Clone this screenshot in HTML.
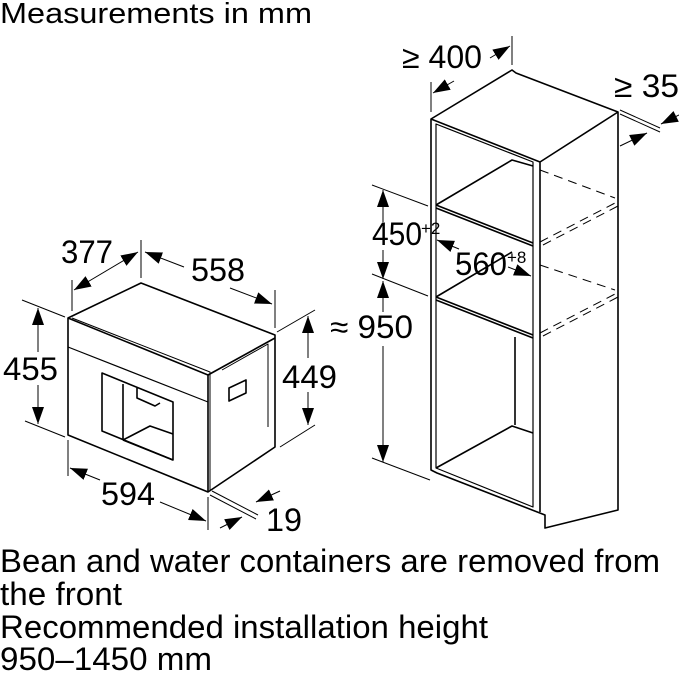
<!DOCTYPE html>
<html><head><meta charset="utf-8"><style>
html,body{margin:0;padding:0;background:#fff;width:679px;height:673px;overflow:hidden}
svg{display:block}
text{font-family:"Liberation Sans",Arial,sans-serif;fill:#000}
</style></head><body>
<svg width="679" height="673" viewBox="0 0 679 673" xmlns="http://www.w3.org/2000/svg">
<defs>
<marker id="a" markerWidth="17" markerHeight="14" refX="17" refY="7" orient="auto-start-reverse" markerUnits="userSpaceOnUse"><path d="M0,1 L17,7 L0,13 z" fill="#000"/></marker>
</defs>
<text x="0" y="23" font-size="29" textLength="312" lengthAdjust="spacingAndGlyphs">Measurements in mm</text>

<!-- Appliance -->
<g fill="none" stroke="#000" stroke-width="1.6" stroke-linejoin="round">
<path d="M68,318 L141,283 L275,335 L275,447 L208,492 L68,435 Z"/>
<path d="M68,318 L208,375 L208,492"/>
<path d="M208,375 L275,338"/>
<path d="M68,347 L208,402" stroke-width="1.2"/>
<path d="M72,318 L210,372 L210,490" stroke-width="1"/>
<path d="M222,370 L268,344 L268,427" stroke-width="1"/>
<path d="M102,373 L173,402 L173,460 L102,431 Z"/>
<path d="M123,384 L123,440 M123,440 L173,460 M123,440 L150,426 L173,434"/>
<path d="M137,388 L137,398 L155,406 L160,403"/>
<path d="M229,388 L246,380 L246,393 L229,401 Z"/>
</g>
<g stroke="#000" stroke-width="1" fill="none">
<line x1="72" y1="311" x2="72" y2="280"/><line x1="141" y1="278" x2="141" y2="240"/>
<line x1="74" y1="290" x2="138" y2="252" marker-start="url(#a)" marker-end="url(#a)"/>
<line x1="275" y1="328" x2="275" y2="290"/>
<line x1="145" y1="252" x2="184" y2="267" marker-start="url(#a)"/>
<line x1="230" y1="288" x2="272" y2="304" marker-end="url(#a)"/>
<line x1="22" y1="300" x2="65" y2="317"/><line x1="25" y1="421" x2="65" y2="437"/>
<line x1="38" y1="308" x2="38" y2="352" marker-start="url(#a)"/>
<line x1="38" y1="385" x2="38" y2="424" marker-end="url(#a)"/>
<line x1="277" y1="332" x2="315" y2="310"/><line x1="280" y1="447" x2="315" y2="425"/>
<line x1="308" y1="316" x2="308" y2="358" marker-start="url(#a)"/>
<line x1="308" y1="392" x2="308" y2="425" marker-end="url(#a)"/>
<line x1="68" y1="440" x2="68" y2="476"/><line x1="208" y1="497" x2="208" y2="530"/>
<line x1="70" y1="468" x2="100" y2="480" marker-start="url(#a)"/>
<line x1="160" y1="502" x2="206" y2="521" marker-end="url(#a)"/>
<line x1="212" y1="491" x2="258" y2="515"/><line x1="210" y1="495" x2="256" y2="519"/>
<line x1="280" y1="491" x2="256" y2="502" marker-end="url(#a)"/>
<line x1="220" y1="528" x2="242" y2="517" marker-end="url(#a)"/>
</g>
<g font-size="32">
<text x="61" y="263" textLength="52" lengthAdjust="spacingAndGlyphs">377</text>
<text x="191" y="281" textLength="54" lengthAdjust="spacingAndGlyphs">558</text>
<text x="3" y="380" textLength="55" lengthAdjust="spacingAndGlyphs">455</text>
<text x="282" y="388" textLength="55" lengthAdjust="spacingAndGlyphs">449</text>
<text x="101" y="505" textLength="54" lengthAdjust="spacingAndGlyphs">594</text>
<text x="266" y="531" textLength="36" lengthAdjust="spacingAndGlyphs">19</text>
<text x="402" y="68" textLength="80" lengthAdjust="spacingAndGlyphs">≥ 400</text>
<text x="614" y="97" textLength="65" lengthAdjust="spacingAndGlyphs">≥ 35</text>
<text x="372" y="245" textLength="50" lengthAdjust="spacingAndGlyphs">450</text>
<text x="455" y="275" textLength="52" lengthAdjust="spacingAndGlyphs">560</text>
<text x="330" y="338" textLength="83" lengthAdjust="spacingAndGlyphs">≈ 950</text>
</g>

<!-- Cabinet -->
<g fill="none" stroke="#000" stroke-width="1.6" stroke-linejoin="round">
<path d="M431,119 L512,70 L516,73 L618,112 L618,510 L545,528 L545,515 L437,473 L431,470 Z"/>
<path d="M431,119 L540,162 L540,512 M540,162 L618,112"/>
<path d="M436,124 L533,162 L533,507 L436,468 Z" stroke-width="1.2"/>
<path d="M436,205 L533,243 M436,208 L533,246"/>
<path d="M436,297 L533,335 M436,300 L533,338"/>
<path d="M436,205 L512,160 L533,166 M436,297 L512,252 M436,468 L512,426 L533,433"/>
<path d="M515,337 L515,425"/>
</g>
<g stroke="#000" stroke-width="1" fill="none" stroke-dasharray="9,6">
<path d="M540,170 L615,198 M540,242 L615,203 M543,245 L618,206"/>
<path d="M540,265 L615,290 M540,333 L615,294 M543,336 L618,297"/>
</g>
<g stroke="#000" stroke-width="1" fill="none">
<line x1="431" y1="112" x2="431" y2="82"/><line x1="512" y1="65" x2="512" y2="36"/>
<line x1="433" y1="93" x2="454" y2="81" marker-start="url(#a)"/>
<line x1="490" y1="58" x2="510" y2="46" marker-end="url(#a)"/>
<line x1="620" y1="114" x2="660" y2="132"/><line x1="620" y1="110" x2="660" y2="128"/>
<line x1="620" y1="146" x2="647" y2="133" marker-end="url(#a)"/>
<line x1="679" y1="115" x2="661" y2="124" marker-end="url(#a)"/>
<line x1="372" y1="185" x2="428" y2="206"/><line x1="372" y1="274" x2="428" y2="296"/>
<line x1="383" y1="190" x2="383" y2="222" marker-start="url(#a)"/>
<line x1="383" y1="250" x2="383" y2="279" marker-end="url(#a)"/>
<line x1="383" y1="281" x2="383" y2="312" marker-start="url(#a)"/>
<line x1="383" y1="346" x2="383" y2="462" marker-end="url(#a)"/>
<line x1="372" y1="458" x2="430" y2="480"/>
<line x1="437" y1="240" x2="459" y2="249" marker-start="url(#a)"/>
<line x1="508" y1="267" x2="531" y2="276" marker-end="url(#a)"/>
</g>
<text x="421" y="234" font-size="17">+2</text>
<text x="507" y="263" font-size="17">+8</text>

<g font-size="32">
<text x="0" y="572" textLength="660" lengthAdjust="spacingAndGlyphs">Bean and water containers are removed from</text>
<text x="0" y="605" textLength="122" lengthAdjust="spacingAndGlyphs">the front</text>
<text x="0" y="638" textLength="488" lengthAdjust="spacingAndGlyphs">Recommended installation height</text>
<text x="0" y="670" textLength="212" lengthAdjust="spacingAndGlyphs">950–1450 mm</text>
</g>
</svg>
</body></html>
